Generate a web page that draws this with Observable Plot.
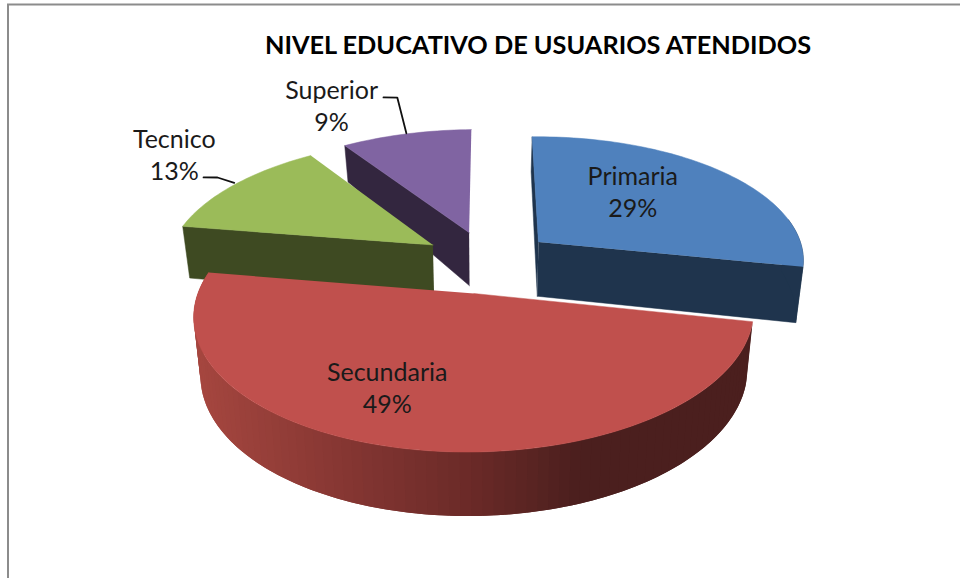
<!DOCTYPE html>
<html>
<head>
<meta charset="utf-8">
<style>html,body{margin:0;padding:0;background:#fff}svg{display:block}</style>
<script src="https://cdn.jsdelivr.net/npm/d3@7"></script>
<script src="https://cdn.jsdelivr.net/npm/@observablehq/plot@0.6"></script>
</head>
<body>
<div id="chart"></div>
<script>
const titulo = "NIVEL EDUCATIVO DE USUARIOS ATENDIDOS";
const categorias = ["Primaria", "Secundaria", "Tecnico", "Superior"];
const valores = [28.5, 49.3, 13, 9.2];
const porcentajes = [29, 49, 13, 9];
const coloresCara = ["#4f81bd", "#c0504d", "#9bbb59", "#8064a2"];
const coloresLado = ["#1f344d", "#4b1f1e", "#3e4a22", "#33263f"];

// Placement of each label on the pie plane: [angle in degrees from 12 o'clock, radius]
const etiquetaPolar = [[44.2, 0.849], [200.6, 0.9335], [306.1, 1.656], [334.9, 1.678]];
const guiaPolar = [null, null, [[303.5, 1.342], [302.2, 1.391]], [[345.5, 1.662], [343.4, 1.68]]];

// 3D view of the pie
const vista = {cx: 487, cy: 261, rx: 267, ry: 125.5, k: 0.144, explode: 0.25, escalaBase: 0.977, giro: 0.008};
const grosor = d3.scaleLinear().domain([-1.25, 0.2, 1.1]).range([64, 54, 36]);
const tonoBorde = d3.scaleLinear().domain([200, 480, 590]).range(["#a5463f", "#6b2a28", "#4b1f1e"]).clamp(true);

const rad = (a) => (a * Math.PI) / 180;
function proyecta(X, Y, base = false) {
  const D = 1 + vista.k * Y;
  const s = base ? vista.escalaBase : 1;
  return {
    x: vista.cx + (vista.rx * s * X) / D,
    y: vista.cy - (vista.ry * Y) / D + (base ? grosor(Y) : 0)
  };
}
const conGiro = (q) => ({x: q.x, y: q.y - vista.giro * (q.x - vista.cx)});

const total = d3.sum(valores);
let acum = 0;
const porciones = categorias.map((nombre, i) => {
  const a0 = (acum / total) * 360;
  acum += valores[i];
  const a1 = (acum / total) * 360;
  const m = (a0 + a1) / 2;
  return {nombre, i, a0, a1, ox: vista.explode * Math.sin(rad(m)), oy: vista.explode * Math.cos(rad(m)), m};
});
const borde = (p, a, base) => proyecta(p.ox + Math.sin(rad(a)), p.oy + Math.cos(rad(a)), base);
const apice = (p, base) => proyecta(p.ox, p.oy, base);
const arco = (p, a0, a1, base) => {
  const n = Math.max(2, Math.ceil(Math.abs(a1 - a0) / 1.5));
  return d3.range(n + 1).map((j) => borde(p, a0 + ((a1 - a0) * j) / n, base));
};

const caras = [];
const bandas = [];
const agrega = (id, color, puntos, lista = caras) =>
  puntos.map(conGiro).forEach((q) => lista.push({id, color, x: q.x, y: q.y}));
const radial = (p, a) => [apice(p), borde(p, a), borde(p, a, true), apice(p, true)];
const tapa = (p) => [apice(p), ...arco(p, p.a0, p.a1)];
const [primaria, secundaria, tecnico, superior] = porciones;

agrega("superior-lado", coloresLado[3], radial(superior, superior.a0));
agrega("superior-tapa", coloresCara[3], tapa(superior));
agrega("tecnico-lado", coloresLado[2], radial(tecnico, tecnico.a0));
agrega("tecnico-tapa", coloresCara[2], tapa(tecnico));
agrega("primaria-lado0", coloresLado[0], radial(primaria, primaria.a0));
agrega("primaria-lado1", coloresLado[0], radial(primaria, primaria.a1));
agrega("primaria-borde", coloresLado[0], [...arco(primaria, 80, primaria.a1), ...arco(primaria, primaria.a1, 80, true)]);
agrega("primaria-tapa", coloresCara[0], tapa(primaria));

// Secundaria's rim: overlapping bands, each painted over the previous one's tail
const pasoBanda = 2;
d3.range(secundaria.a1 - pasoBanda, secundaria.a0 - pasoBanda, -pasoBanda).forEach((a, j) => {
  const ini = Math.max(a, secundaria.a0);
  const fin = Math.min(a + pasoBanda, secundaria.a1);
  const cola = Math.min(fin + pasoBanda, secundaria.a1);
  const puntos = [...arco(secundaria, ini, cola), ...arco(secundaria, cola, ini, true)];
  const medio = borde(secundaria, (ini + fin) / 2);
  agrega("banda" + j, tonoBorde(medio.x), puntos, bandas);
});
const tapaSecundaria = [];
agrega("secundaria-tapa", coloresCara[1], tapa(secundaria), tapaSecundaria);

const enPlano = ([a, r]) => proyecta(r * Math.sin(rad(a)), r * Math.cos(rad(a)));
const etiquetas = porciones.map((p, i) => ({
  ...enPlano(etiquetaPolar[i]),
  texto: `${p.nombre}\n${porcentajes[i]}%`
}));
const guias = porciones.flatMap((p, i) =>
  guiaPolar[i] ? [borde(p, p.m), ...guiaPolar[i].map(enPlano)].map((q) => ({...q, id: p.nombre})) : []
);

const poligono = (filas, extra = {}) =>
  Plot.line(filas, {x: "x", y: "y", z: "id", fill: "color", stroke: "color", strokeWidth: 0.5, curve: "linear", ...extra});

const chart = Plot.plot({
  width: 960,
  height: 578,
  margin: 0,
  x: {domain: [0, 960], range: [0, 960], axis: null},
  y: {domain: [0, 578], range: [0, 578], axis: null},
  color: {type: "identity"},
  marks: [
    Plot.ruleX([7.5], {y1: 4, y2: 578, stroke: "#8c8c8c", strokeWidth: 2}),
    Plot.ruleY([4], {x1: 7, x2: 960, stroke: "#8c8c8c", strokeWidth: 2}),
    poligono(caras),
    poligono(bandas, {stroke: "none"}),
    poligono(tapaSecundaria),
    Plot.line(guias, {x: "x", y: "y", z: "id", stroke: "#111", strokeWidth: 1.8, curve: "linear"}),
    Plot.text(etiquetas, {x: "x", y: "y", text: "texto", dy: -0.5, fontSize: 25, lineHeight: 1.28, fontFamily: "Lato", fill: "#1a1a1a"}),
    Plot.text([titulo], {x: [537.5], y: [45], text: (d) => d, fontSize: 25.3, fontWeight: 700, fontFamily: "Lato", fill: "#000"})
  ]
});
document.getElementById("chart").append(chart);
</script>
</body>
</html>
